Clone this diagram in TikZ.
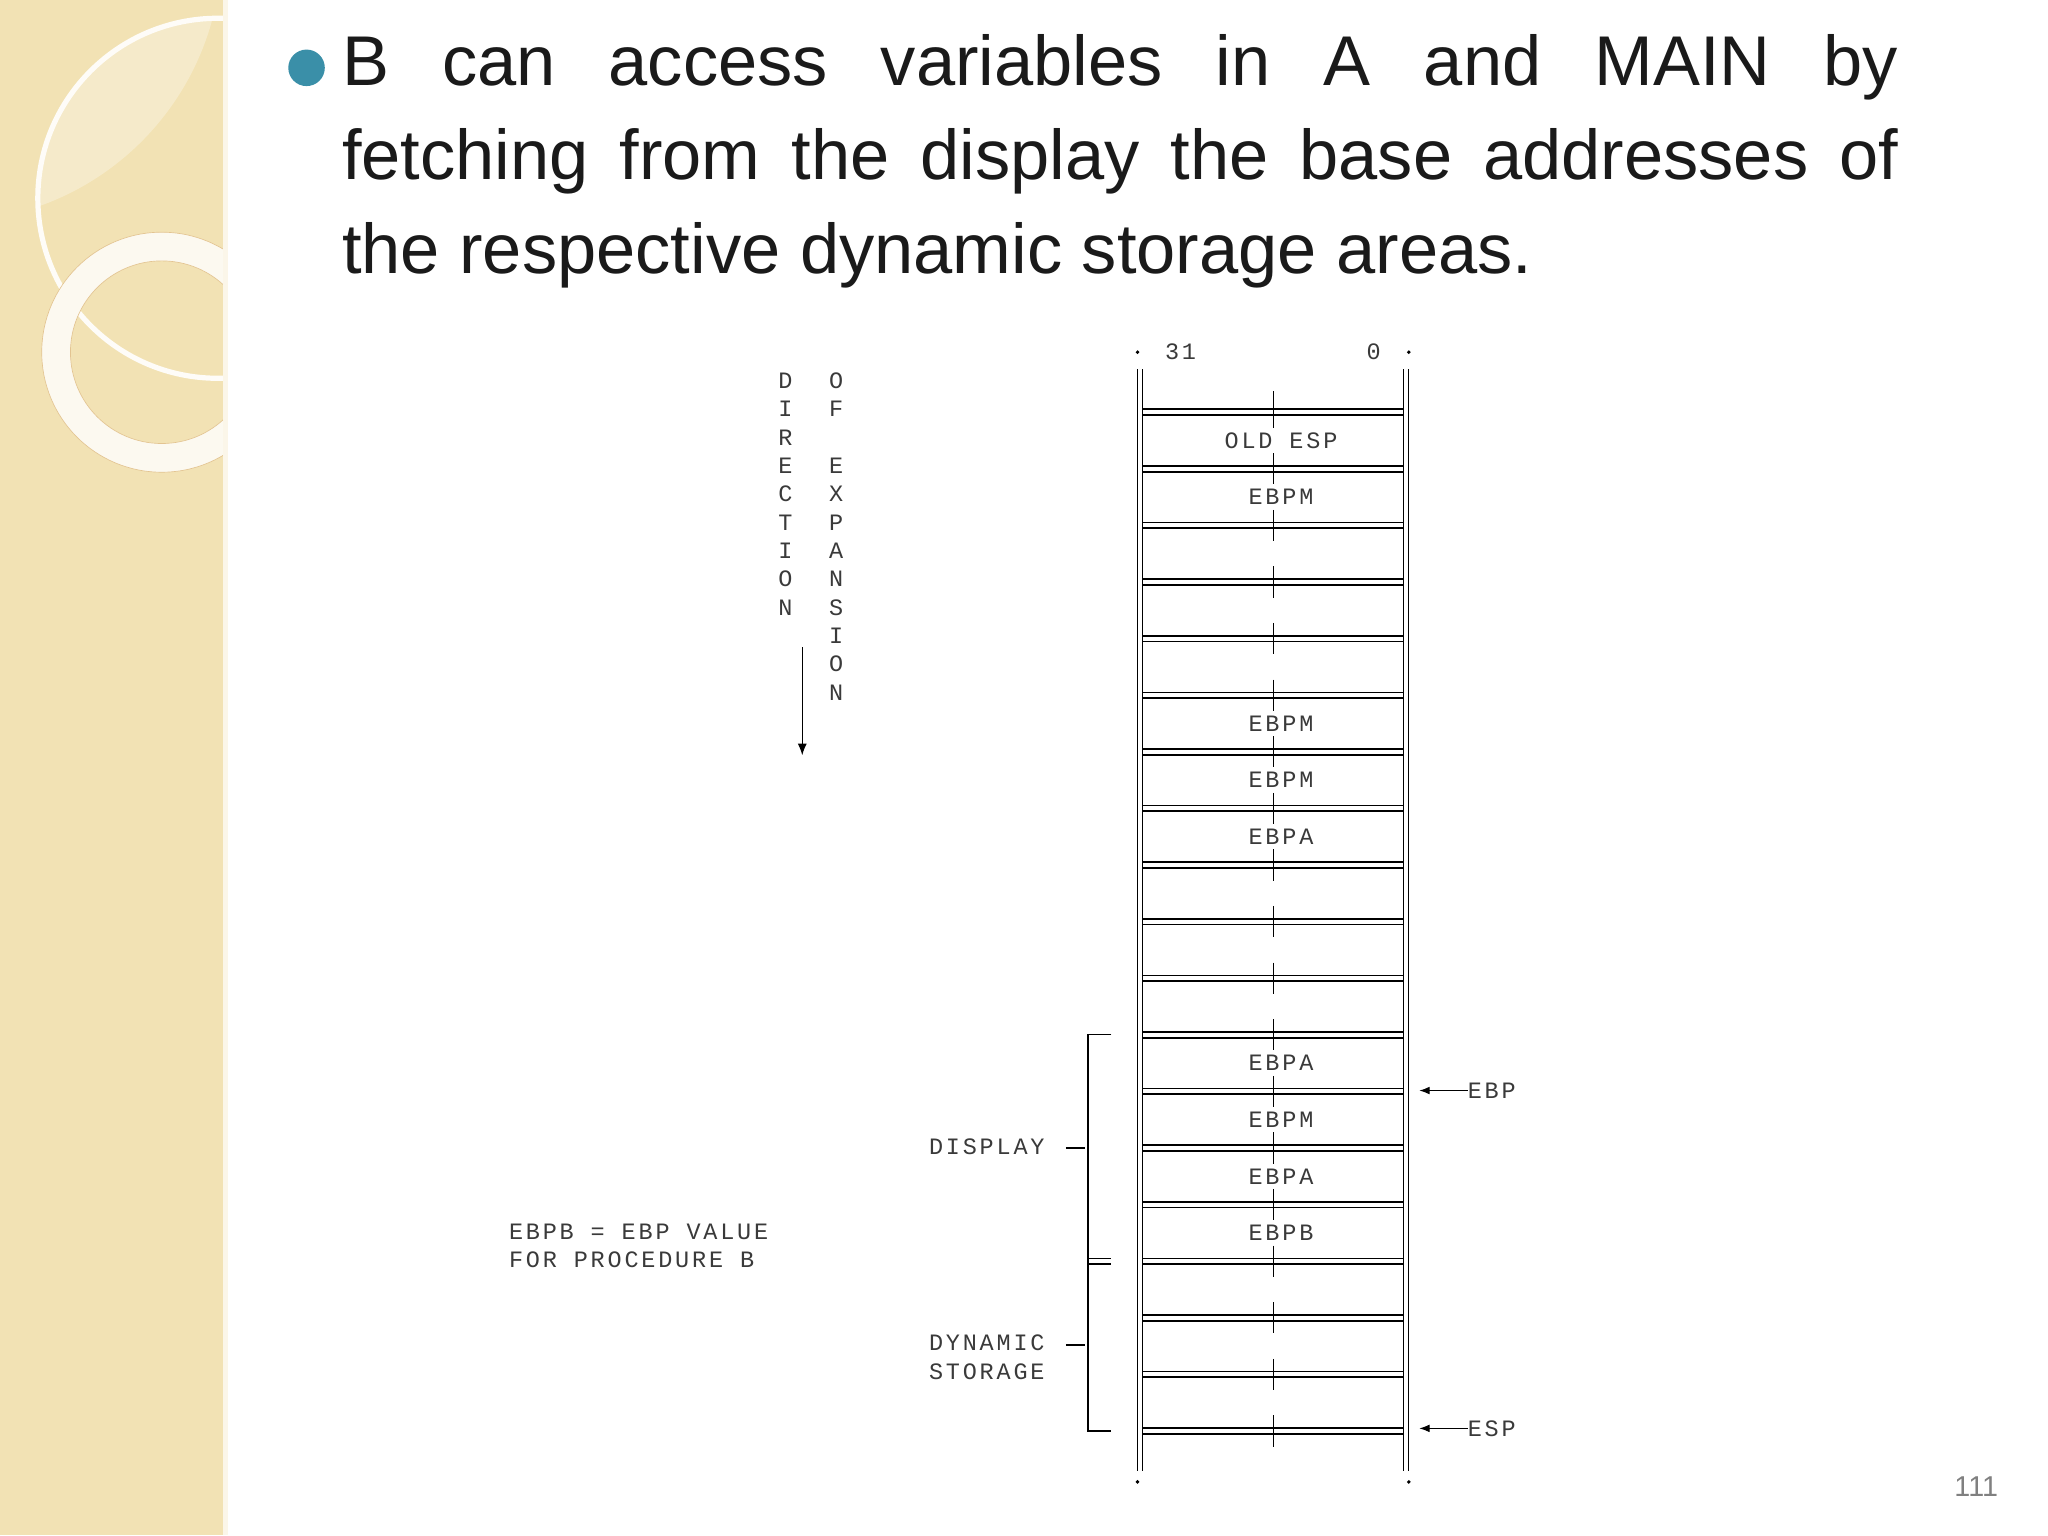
\documentclass[tikz,border=0pt]{standalone}
\usetikzlibrary{arrows.meta}
\usepackage{fontspec}
\setmainfont{Liberation Sans}
\newfontfamily\slidefont{Liberation Sans}
\newfontfamily\monofont[LetterSpace=12]{Liberation Mono}
\definecolor{side}{HTML}{F2E2B4}
\definecolor{teal}{HTML}{3A8FA8}
\definecolor{txt}{HTML}{1A1A1A}
\definecolor{mono}{HTML}{3A3A3A}
\begin{document}
\begin{tikzpicture}[x=1pt,y=-1pt,
  mtxt/.style={font=\monofont\fontsize{18}{22}\selectfont,text=mono,inner sep=0pt},
  sline/.style={line width=1.3pt,black},
  thin/.style={line width=0.9pt,black}]
\useasboundingbox (0,0) rectangle (1570,1177);
\fill[white] (0,0) rectangle (1570,1177);
% sidebar
\begin{scope}
\clip (0,0) rectangle (173,1177);
\fill[side] (0,0) rectangle (173,1177);
\begin{scope}
\clip (167,152) circle[radius=138];
\fill[white,opacity=0.3] (-40,-40) circle[radius=210];
\end{scope}
\draw[white!90!side,line width=4pt] (167,152) circle[radius=138];
\draw[white!80!side,line width=22pt] (124,270) circle[radius=81];
\draw[side!70!brown,line width=0.5pt] (124,270) circle[radius=70];
\draw[side!70!brown,line width=0.5pt] (124,270) circle[radius=92];
\end{scope}
\fill[white!70!side] (171,0) rectangle (175,1177);
% bullet and text
\fill[teal] (235,52) circle[radius=14];
\node[anchor=north west,inner sep=0pt,text=txt,text width=1193pt,align=justify,
  font=\slidefont\fontsize{54}{72}\selectfont] (title) at (262,26)
  {B can access variables in A and MAIN by\linebreak fetching from the display the base addresses of\linebreak the respective dynamic storage areas.};
% stack
\draw[thin] (872,283) -- (872,1128); \draw[thin] (876,283) -- (876,1128);
\draw[thin] (1076,283) -- (1076,1128); \draw[thin] (1080,283) -- (1080,1128);
\fill (872,270) circle[radius=1.5]; \fill (1080,270) circle[radius=1.5];
\fill (872,1136) circle[radius=1.5]; \fill (1080,1136) circle[radius=1.5];
\node[mtxt] (b31) at (905,270) {31};
\node[mtxt] (b0) at (1053,270) {0};
\draw[thin] (976,300) -- (976,316);
\foreach \i in {0,...,18}{
  \pgfmathsetmacro\yy{316+\i*43.39}
  \draw[sline] (876,\yy-2.2) -- (1076,\yy-2.2);
  \draw[sline] (876,\yy+2.2) -- (1076,\yy+2.2);
  \draw[thin] (976,\yy-12) -- (976,\yy+12);
}
\foreach \i/\t in {0/OLD ESP,1/EBPM,5/EBPM,6/EBPM,7/EBPA,11/EBPA,12/EBPM,13/EBPA,14/EBPB}{
  \pgfmathsetmacro\yy{316+\i*43.39+21.7}
  \node[mtxt,fill=white,inner sep=1pt] at (982,\yy) {\t};
}
% bracket
\draw[thin] (852,793) -- (834,793) -- (834,1097) -- (852,1097);
\draw[thin] (834,965) -- (852,965); \draw[thin] (834,969) -- (852,969);
\node[mtxt,anchor=west] (disp) at (712,879) {DISPLAY};
\draw[thin] (817,880) -- (832,880);
\node[mtxt,anchor=north west,align=left] (dyn) at (712,1023) {DYNAMIC\\STORAGE};
\draw[thin] (817,1031) -- (832,1031);
% EBP/ESP pointers
\node[mtxt,anchor=west] (ebp) at (1125,836) {EBP};
\node[mtxt,anchor=west] (esp) at (1125,1095) {ESP};
\draw[thin,-{Latex[length=8pt,width=6pt]}] (ebp.west) -- (1088,836);
\draw[thin,-{Latex[length=8pt,width=6pt]}] (esp.west) -- (1088,1095);
% direction of expansion
\foreach \c [count=\k from 0] in {D,I,R,E,C,T,I,O,N}{
  \node[mtxt] at (602,292+\k*21.7) {\c};}
\foreach \c [count=\k from 0] in {O,F,{},E,X,P,A,N,S,I,O,N}{
  \node[mtxt] at (641,292+\k*21.7) {\c};}
\draw[thin,-{Latex[length=9pt,width=7pt]}] (615,496) -- (615,579);
% note
\node[mtxt,anchor=west] (n1) at (390,944) {EBPB = EBP VALUE};
\node[mtxt,anchor=west] (n2) at (390,966) {FOR PROCEDURE B};
% page number
\node[text=gray,font=\fontsize{22}{24}\selectfont] (pg) at (1515,1140) {111};
\end{tikzpicture}
\end{document}
